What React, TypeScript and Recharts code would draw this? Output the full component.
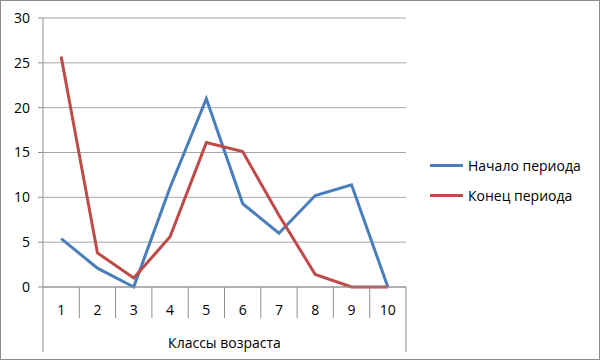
import { LineChart, Line, XAxis, YAxis, CartesianGrid, Legend } from "recharts";

const classes = ["1", "2", "3", "4", "5", "6", "7", "8", "9", "10"];
const startOfPeriod = [5.4, 2.1, 0, 11.1, 21, 9.3, 6, 10.2, 11.4, 0];
const endOfPeriod = [25.7, 3.8, 1, 5.6, 16.1, 15.1, 8, 1.4, 0, 0];
const seriesOrder = ["start", "end"];
const yTicks = [0, 5, 10, 15, 20, 25, 30];

const BLUE = "#4a7ebb";
const RED = "#be4b48";
const GRID = "#a6a6a6";
const AXIS = "#8e8e8e";
const FONT = "'Open Sans', sans-serif";
const HALF = 18.15;

const data = classes.map((c, i) => ({
  cls: c,
  start: startOfPeriod[i],
  end: endOfPeriod[i],
}));

function CategoryTick(props: any) {
  const { x, y, payload, index } = props;
  const last = index === classes.length - 1;
  return (
    <g>
      <line x1={x - HALF} y1={y} x2={x - HALF} y2={index === 0 ? y + 65 : y + 31} stroke={AXIS} />
      {last && <line x1={x + HALF} y1={y} x2={x + HALF} y2={y + 65} stroke={AXIS} />}
      <text x={x} y={y + 22} textAnchor="middle" dominantBaseline="central" fontSize={14} fill="#000" fontFamily={FONT}>
        {payload.value}
      </text>
    </g>
  );
}

function LegendContent(props: any) {
  const items = [...(props.payload || [])].sort(
    (a: any, b: any) => seriesOrder.indexOf(a.dataKey) - seriesOrder.indexOf(b.dataKey)
  );
  return (
    <div style={{ fontFamily: FONT, fontSize: 14, color: "#000" }}>
      {items.map((p: any) => (
        <div key={p.value} style={{ display: "flex", alignItems: "center", height: 30 }}>
          <span style={{ display: "inline-block", width: 33, height: 3, background: p.color, marginRight: 5 }} />
          <span>{p.value}</span>
        </div>
      ))}
    </div>
  );
}

export default function App() {
  return (
    <div style={{ position: "absolute", left: 0, top: 0, width: 600, height: 360, background: "#fff" }}>
      <LineChart width={600} height={360} data={data} margin={{ top: 18, right: 194, left: 0, bottom: 8 }}>
        <CartesianGrid horizontal vertical={false} stroke={GRID} />
        <XAxis
          dataKey="cls"
          padding={{ left: HALF, right: HALF }}
          axisLine={{ stroke: AXIS }}
          tickLine={false}
          tickSize={0}
          tickMargin={0}
          height={65}
          interval={0}
          tick={<CategoryTick />}
          label={{ value: "Классы возраста", position: "insideBottom", offset: 4, fontSize: 14, fill: "#000", fontFamily: FONT }}
        />
        <YAxis
          width={43}
          domain={[0, 30]}
          ticks={yTicks}
          axisLine={{ stroke: AXIS }}
          tickLine={{ stroke: AXIS }}
          tickSize={5}
          tickMargin={8}
          tick={{ fontSize: 14, fill: "#000", fontFamily: FONT }}
        />
        <Legend
          layout="vertical"
          align="center"
          verticalAlign="middle"
          wrapperStyle={{ left: 430, top: 150, width: 170 }}
          content={<LegendContent />}
        />
        <Line dataKey="start" name="Начало периода" stroke={BLUE} strokeWidth={3} dot={false} isAnimationActive={false} />
        <Line dataKey="end" name="Конец периода" stroke={RED} strokeWidth={3} dot={false} isAnimationActive={false} />
      </LineChart>
      <div style={{ position: "absolute", left: 0, top: 0, width: 600, height: 360, boxSizing: "border-box", border: "1px solid #8c8c8c", pointerEvents: "none" }} />
    </div>
  );
}
